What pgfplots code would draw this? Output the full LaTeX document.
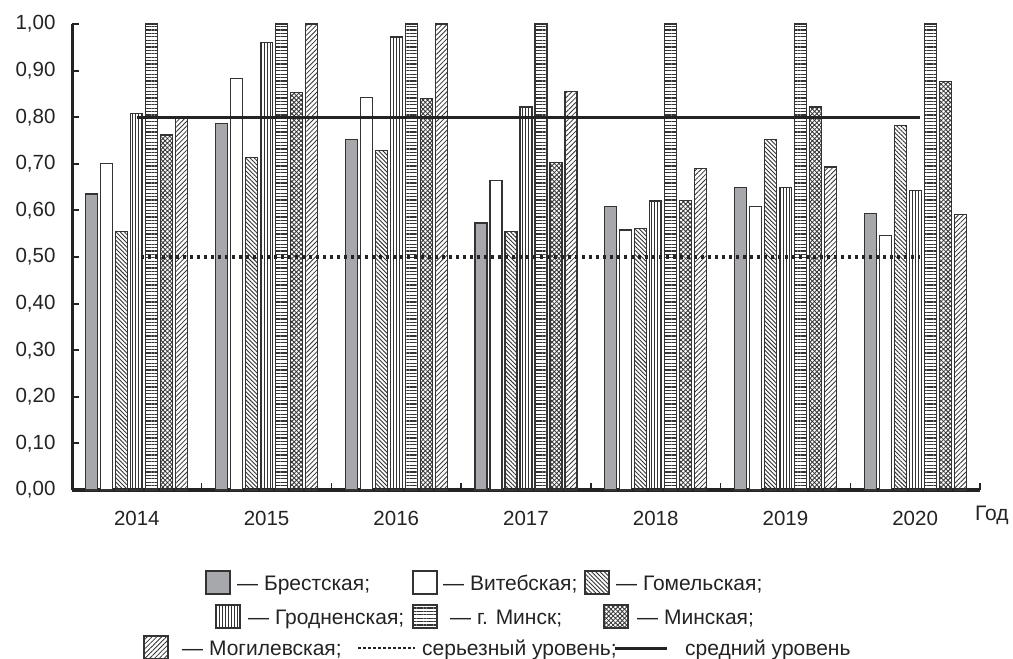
\documentclass[border=0pt]{standalone}
\usepackage{fontspec}
\setmainfont{Liberation Sans}
\usepackage{pgfplots}
\pgfplotsset{compat=1.18}
\usetikzlibrary{patterns.meta}

\definecolor{ink}{HTML}{232323}
\definecolor{brestgray}{HTML}{A7A8AB}
\definecolor{barline}{HTML}{333333}

\tikzset{
  barbase/.style={draw=barline, line width=1.2pt},
  brest/.style={barbase, fill=brestgray},
  vit/.style={barbase, fill=white},
  gom/.style={barbase, pattern={Lines[angle=-45,distance=3pt,line width=0.9pt]}, pattern color=barline},
  grod/.style={barbase, pattern={Lines[angle=90,distance=3pt,line width=0.9pt]}, pattern color=barline},
  mcity/.style={barbase, pattern={Lines[angle=0,distance=3.4pt,line width=1.3pt]}, pattern color=barline},
  mreg/.style={barbase, preaction={pattern={Lines[angle=-45,distance=3.2pt,line width=0.85pt]}, pattern color=barline},
    pattern={Lines[angle=45,distance=3.2pt,line width=0.85pt]}, pattern color=barline},
  mog/.style={barbase, pattern={Lines[angle=45,distance=3.4pt,line width=0.8pt]}, pattern color=barline},
  serious/.style={ink, line width=3.5pt, dash pattern=on 3.5pt off 3.5pt},
  average/.style={ink, line width=3pt},
  legtext/.style={anchor=base west, inner sep=0pt, text=ink, font=\fontsize{21}{24}\selectfont},
}

\begin{document}
\begin{tikzpicture}
\useasboundingbox (0pt,0pt) rectangle (1013pt,-659pt);
\begin{axis}[
    at={(72pt,-490pt)}, anchor=south west,
    scale only axis, width=908pt, height=466pt,
    xmin=-0.5, xmax=6.5, ymin=0, ymax=1.0,
    clip=false,
    axis x line=bottom, axis y line=left,
    axis line style={ink, -},
    x axis line style={line width=3.5pt},
    y axis line style={line width=3pt},
    ybar=3pt, bar width=12pt,
    xtick={-0.5,0.5,1.5,2.5,3.5,4.5,5.5,6.5},
    x tick label as interval,
    xticklabels={2014,2015,2016,2017,2018,2019,2020},
    ytick={0,0.1,0.2,0.3,0.4,0.5,0.6,0.7,0.8,0.9,1.0},
    tick align=inside,
    major tick length=7pt,
    xtick style={ink, line width=1.5pt},
    ytick style={ink, line width=2pt},
    /pgf/number format/assume math mode=true,
    tick label style={text=ink, font=\fontsize{20.5}{24}\selectfont},
    xticklabel style={yshift=-18pt},
    yticklabel style={xshift=-13pt, /pgf/number format/.cd, fixed, fixed zerofill, precision=2, use comma},
]
% Брестская
\addplot[brest] coordinates {(0,0.635)(1,0.787)(2,0.753)(3,0.573)(4,0.609)(5,0.649)(6,0.594)};
% Витебская
\addplot[vit] coordinates {(0,0.700)(1,0.883)(2,0.843)(3,0.664)(4,0.558)(5,0.608)(6,0.547)};
% Гомельская
\addplot[gom] coordinates {(0,0.555)(1,0.714)(2,0.729)(3,0.555)(4,0.561)(5,0.752)(6,0.782)};
% Гродненская
\addplot[grod] coordinates {(0,0.808)(1,0.960)(2,0.972)(3,0.822)(4,0.620)(5,0.649)(6,0.642)};
% г. Минск
\addplot[mcity] coordinates {(0,1.000)(1,1.000)(2,1.000)(3,1.000)(4,1.000)(5,1.000)(6,1.000)};
% Минская
\addplot[mreg] coordinates {(0,0.762)(1,0.853)(2,0.840)(3,0.702)(4,0.622)(5,0.822)(6,0.877)};
% Могилевская
\addplot[mog] coordinates {(0,0.798)(1,1.000)(2,1.000)(3,0.855)(4,0.690)(5,0.693)(6,0.592)};
% уровни
\addplot[sharp plot, serious, mark=none] coordinates {(0.03,0.5)(6.04,0.5)};
\addplot[sharp plot, average, mark=none] coordinates {(0,0.8)(6.04,0.8)};
\end{axis}

% подпись оси
\node[legtext] at (975pt,-520pt) {Год};

% легенда
\draw[brest] (206pt,-571pt) rectangle (230pt,-594pt);
\node[legtext] at (237pt,-590pt) {— Брестская;};
\draw[vit] (413pt,-571pt) rectangle (437pt,-594pt);
\node[legtext] at (443pt,-590pt) {— Витебская;};
\draw[gom] (585pt,-571pt) rectangle (609pt,-594pt);
\node[legtext] at (616pt,-590pt) {— Гомельская;};

\draw[grod] (216pt,-605pt) rectangle (240pt,-628pt);
\node[legtext] at (248pt,-624pt) {— Гродненская;};
\draw[mcity] (413pt,-605pt) rectangle (437pt,-628pt);
\node[legtext] at (450pt,-624pt) {— г. Минск;};
\draw[mreg] (604pt,-605pt) rectangle (628pt,-628pt);
\node[legtext] at (637pt,-624pt) {— Минская;};

\draw[mog] (144pt,-636pt) rectangle (168pt,-659pt);
\node[legtext] at (182pt,-655pt) {— Могилевская;};
\draw[ink, line width=2.5pt, dash pattern=on 2.5pt off 2.5pt] (358pt,-648pt) -- (415pt,-648pt);
\node[legtext] at (422pt,-655pt) {серьезный уровень;};
\draw[ink, line width=3pt] (615pt,-648pt) -- (667pt,-648pt);
\node[legtext] at (685pt,-655pt) {средний уровень};
\end{tikzpicture}
\end{document}
